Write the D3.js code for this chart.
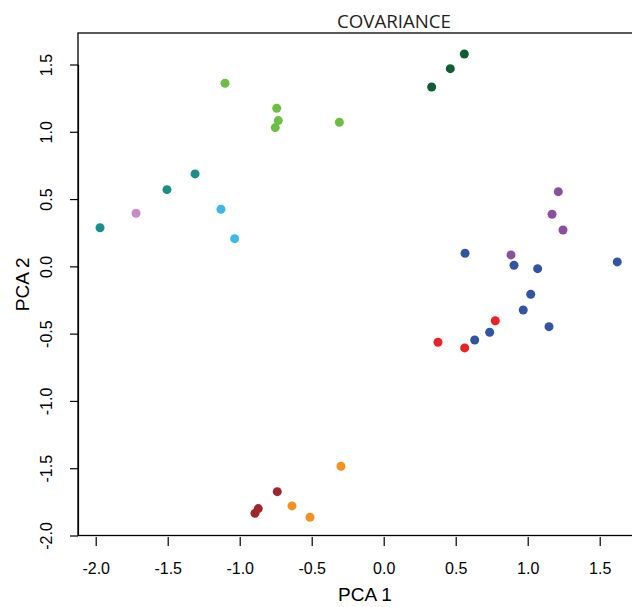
<!DOCTYPE html>
<html>
<head>
<meta charset="utf-8">
<script src="https://cdn.jsdelivr.net/npm/d3@7"></script>
<style>
  html, body { margin: 0; padding: 0; background: #fff; }
  svg { display: block; }
</style>
</head>
<body>
<svg id="chart" width="632" height="607"></svg>
<script>
// ---- data ----
const groups = ["teal", "pink", "lightblue", "lightgreen", "darkgreen", "purple", "blue", "red", "orange", "darkred"];
const groupColors = ["#1a8f8a", "#c98bc4", "#3db8ea", "#6bbf45", "#0f5e33", "#8b4fa0", "#3353a3", "#ee2026", "#f6901e", "#a1262a"];
const pca1 = {
  teal: [-1.970, -1.505, -1.310],
  pink: [-1.720],
  lightblue: [-1.130, -1.035],
  lightgreen: [-1.102, -0.743, -0.732, -0.753, -0.308],
  darkgreen: [0.333, 0.4625, 0.560],
  purple: [1.2125, 1.169, 1.245, 0.884],
  blue: [0.565, 0.905, 1.069, 1.622, 1.021, 0.969, 1.148, 0.736, 0.632],
  red: [0.775, 0.5625, 0.377],
  orange: [-0.2965, -0.637, -0.512],
  darkred: [-0.739, -0.871, -0.894]
};
const pca2 = {
  teal: [0.287, 0.570, 0.687],
  pink: [0.395],
  lightblue: [0.424, 0.206],
  lightgreen: [1.361, 1.175, 1.083, 1.031, 1.071],
  darkgreen: [1.333, 1.469, 1.578],
  purple: [0.555, 0.387, 0.270, 0.085],
  blue: [0.097, 0.008, -0.017, 0.033, -0.207, -0.324, -0.448, -0.490, -0.547],
  red: [-0.404, -0.606, -0.564],
  orange: [-1.485, -1.780, -1.864],
  darkred: [-1.674, -1.800, -1.835]
};
const xTicks = [-2.0, -1.5, -1.0, -0.5, 0.0, 0.5, 1.0, 1.5];
const yTicks = [-2.0, -1.5, -1.0, -0.5, 0.0, 0.5, 1.0, 1.5];
const titleText = "COVARIANCE";
const xLabel = "PCA 1";
const yLabel = "PCA 2";

// ---- layout ----
const svg = d3.select("#chart");
const box = { left: 78, top: 33, right: 652, bottom: 535.5 };

const x = d3.scaleLinear().domain([-2, 1.5]).range([95.7, 599.7]);
const y = d3.scaleLinear().domain([-2, 1.5]).range([535.5, 64.5]);
const color = d3.scaleOrdinal().domain(groups).range(groupColors);

const points = [];
groups.forEach(g => {
  pca1[g].forEach((v, i) => points.push({ g, px: v, py: pca2[g][i] }));
});

// box
svg.append("rect")
  .attr("x", box.left).attr("y", box.top)
  .attr("width", box.right - box.left).attr("height", box.bottom - box.top)
  .attr("fill", "none").attr("stroke", "#000").attr("stroke-width", 1.3);

// x axis
const fmt = d => d.toFixed(1);
const gx = svg.append("g")
  .attr("transform", `translate(0,${box.bottom + 1.5})`)
  .call(d3.axisBottom(x).tickValues(xTicks).tickFormat(fmt).tickSizeInner(9).tickSizeOuter(0).tickPadding(17));
gx.select(".domain").remove();
gx.selectAll(".tick line").attr("stroke", "#000").attr("stroke-width", 1.2);
gx.selectAll(".tick text")
  .attr("font-family", "Liberation Sans, Arial, sans-serif")
  .attr("font-size", 16).attr("fill", "#000");

// y axis
const gy = svg.append("g")
  .attr("transform", `translate(${box.left},0)`)
  .call(d3.axisLeft(y).tickValues(yTicks).tickFormat(fmt).tickSizeInner(8).tickSizeOuter(0));
gy.select(".domain").attr("stroke", "#000").attr("stroke-width", 1.2);
gy.selectAll(".tick line").attr("stroke", "#000").attr("stroke-width", 1.2);
gy.selectAll(".tick text")
  .attr("font-family", "Liberation Sans, Arial, sans-serif")
  .attr("font-size", 16).attr("fill", "#000")
  .attr("x", 0).attr("y", -26).attr("dy", 0)
  .attr("text-anchor", "middle")
  .attr("transform", "rotate(-90)");

// points
svg.append("g").selectAll("circle")
  .data(points)
  .join("circle")
  .attr("cx", d => x(d.px))
  .attr("cy", d => y(d.py))
  .attr("r", 4.5)
  .attr("fill", d => color(d.g));

// title
svg.append("text")
  .attr("x", 394).attr("y", 27.5)
  .attr("text-anchor", "middle")
  .attr("font-family", "Open Sans, Lato, sans-serif")
  .attr("font-size", 19)
  .attr("textLength", 114).attr("lengthAdjust", "spacingAndGlyphs")
  .attr("fill", "#231f20")
  .text(titleText);

// axis labels
svg.append("text")
  .attr("x", 365).attr("y", 600.5)
  .attr("text-anchor", "middle")
  .attr("font-family", "Liberation Sans, Arial, sans-serif")
  .attr("font-size", 19).attr("fill", "#000")
  .text(xLabel);

svg.append("text")
  .attr("transform", `translate(29,${(box.top + box.bottom) / 2}) rotate(-90)`)
  .attr("text-anchor", "middle")
  .attr("font-family", "Liberation Sans, Arial, sans-serif")
  .attr("font-size", 19).attr("fill", "#000")
  .text(yLabel);
</script>
</body>
</html>
